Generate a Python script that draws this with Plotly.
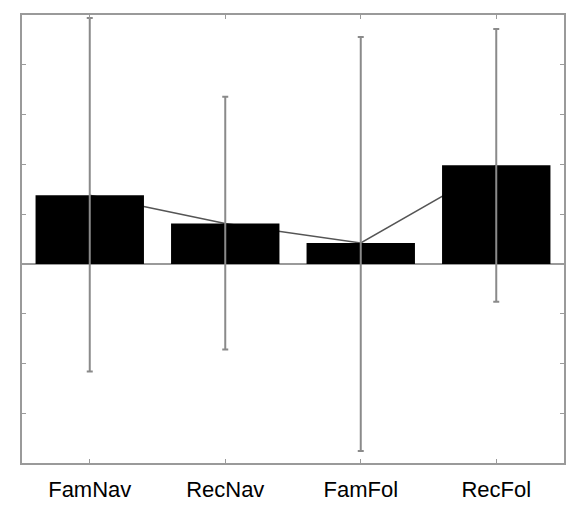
import plotly.graph_objects as go

categories = ["FamNav", "RecNav", "FamFol", "RecFol"]
means = [1.38, 0.81, 0.42, 1.98]
err_plus = [3.56, 2.55, 4.14, 2.74]
err_minus = [3.54, 2.53, 4.18, 2.74]

y_range = [-4, 5]
frame_color = "#9a9a9a"

fig = go.Figure()

# connecting line (drawn on the base axis so the bars cover it)
fig.add_trace(go.Scatter(
    x=categories, y=means, mode="lines",
    line=dict(color="#555555", width=1.5),
    xaxis="x", yaxis="y", showlegend=False, hoverinfo="skip",
))

# bars with error bars on an overlaying axis
fig.add_trace(go.Bar(
    x=categories, y=means, width=0.8,
    marker=dict(color="black", line=dict(width=0)),
    error_y=dict(type="data", symmetric=False, array=err_plus, arrayminus=err_minus,
                 color="#8a8a8a", thickness=2, width=3),
    xaxis="x", yaxis="y2", showlegend=False,
))

fig.update_layout(
    width=576, height=512,
    margin=dict(l=22, r=10, t=15, b=49),
    paper_bgcolor="white", plot_bgcolor="white",
    font=dict(family="Liberation Sans, Arial, sans-serif", color="black"),
    xaxis=dict(
        type="category", range=[-0.5, 3.5],
        showline=True, linecolor=frame_color, linewidth=2, mirror="ticks",
        ticks="inside", ticklen=4, tickcolor=frame_color, tickwidth=1,
        showgrid=False, zeroline=False,
        tickfont=dict(size=22, color="black"),
        ticklabelstandoff=6,
    ),
    yaxis=dict(
        range=y_range, dtick=1, tick0=0,
        showline=True, linecolor=frame_color, linewidth=2, mirror="ticks",
        ticks="inside", ticklen=4, tickcolor=frame_color, tickwidth=1,
        showticklabels=False, showgrid=False,
        zeroline=True, zerolinecolor=frame_color, zerolinewidth=2,
    ),
    yaxis2=dict(
        range=y_range, overlaying="y", visible=False,
        showgrid=False, zeroline=False,
    ),
    bargap=0.2,
)

fig.write_html(
    "out.html",
    config={"displayModeBar": False},
    post_script="document.body.style.margin='0';document.body.style.overflow='hidden';",
)
